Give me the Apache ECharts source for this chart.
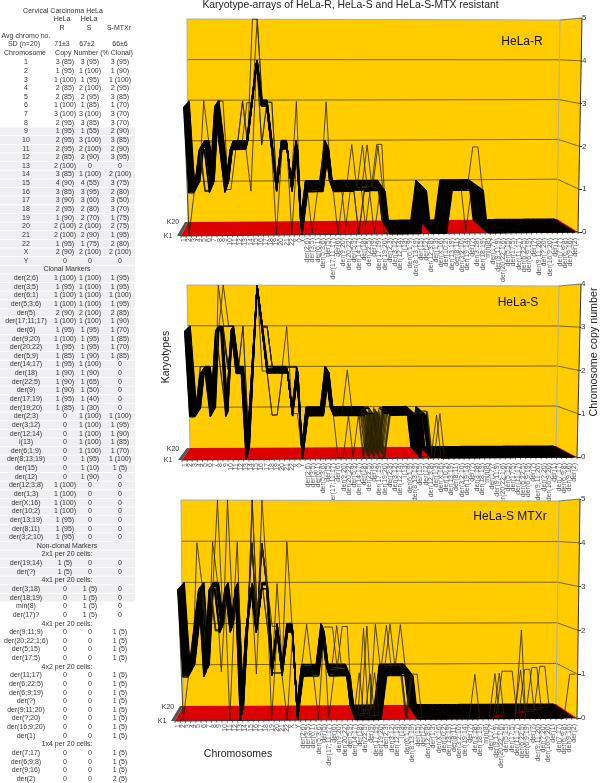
<!DOCTYPE html>
<html>
<head>
<meta charset="utf-8">
<style>html,body{margin:0;padding:0;background:#fff}#main{width:600px;height:783px}</style>
<script src="https://cdn.jsdelivr.net/npm/echarts@6/dist/echarts.min.js"></script>
</head>
<body>
<div id="main"></div>
<script>
// table rows: name, HeLa-R, HeLa-S, S-MTXr
var chromosomeRows = [
  ['1','3 (85)','3 (95)','3 (95)'],['2','1 (95)','1 (100)','1 (90)'],['3','1 (100)','1 (95)','1 (100)'],
  ['4','2 (85)','2 (100)','2 (95)'],['5','2 (85)','2 (95)','3 (85)'],['6','1 (100)','1 (85)','1 (70)'],
  ['7','3 (100)','3 (100)','3 (70)'],['8','2 (95)','3 (85)','3 (70)'],['9','1 (95)','1 (55)','2 (90)'],
  ['10','2 (95)','3 (100)','3 (85)'],['11','2 (95)','2 (100)','2 (90)'],['12','2 (85)','2 (90)','3 (95)'],
  ['13','2 (100)','0','0'],['14','3 (85)','1 (100)','2 (100)'],['15','4 (90)','4 (55)','3 (75)'],
  ['16','3 (85)','3 (95)','2 (80)'],['17','3 (90)','3 (60)','3 (50)'],['18','2 (95)','2 (80)','3 (70)'],
  ['19','1 (90)','2 (70)','1 (75)'],['20','2 (100)','2 (100)','2 (75)'],['21','2 (100)','2 (90)','1 (95)'],
  ['22','1 (95)','1 (75)','2 (80)'],['X','2 (90)','2 (100)','2 (100)'],['Y','0','0','0']
];
var clonalRows = [
  ['der(2;6)','1 (100)','1 (100)','1 (95)'],['der(3;5)','1 (95)','1 (100)','1 (95)'],['der(6;1)','1 (100)','1 (100)','1 (100)'],
  ['der(5;3;6)','1 (100)','1 (100)','1 (95)'],['der(5)','2 (90)','2 (100)','2 (85)'],['der(17;11;17)','1 (100)','1 (100)','1 (90)'],
  ['der(6)','1 (95)','1 (95)','1 (70)'],['der(9;20)','1 (100)','1 (95)','1 (85)'],['der(20;22)','1 (95)','1 (95)','1 (70)'],
  ['der(5;9)','1 (85)','1 (90)','1 (85)'],['der(14;17)','1 (95)','1 (100)','0'],['der(18)','1 (90)','1 (90)','0'],
  ['der(22;5)','1 (90)','1 (65)','0'],['der(9)','1 (90)','1 (50)','0'],['der(17;19)','1 (95)','1 (40)','0'],
  ['der(19;20)','1 (85)','1 (30)','0'],['der(2;3)','0','1 (100)','1 (100)'],['der(3;12)','0','1 (100)','1 (95)'],
  ['der(12;14)','0','1 (100)','1 (90)'],['i(13)','0','1 (100)','1 (85)'],['der(6;1;9)','0','1 (100)','1 (70)'],
  ['der(8;13;19)','0','1 (95)','1 (100)'],['der(15)','0','1 (10)','1 (5)'],['der(12)','0','1 (90)','0'],
  ['der(12;3;8)','1 (100)','0','0'],['der(1;3)','1 (100)','0','0'],['der(X;16)','1 (100)','0','0'],
  ['der(10;2)','1 (100)','0','0'],['der(13;19)','1 (95)','0','0'],['der(8;11)','1 (95)','0','0'],['der(3;2;10)','1 (95)','0','0']
];
var nonClonal2x1 = [['der(19;14)','1 (5)','0','0'],['der(?)','1 (5)','0','0']];
var nonClonal4x1S = [['der(3;18)','0','1 (5)','0'],['der(18;19)','0','1 (5)','0'],['min(8)','0','1 (5)','0'],['der(17)?','0','1 (5)','0']];
var nonClonal4x1M = [['der(9;11;9)','0','0','1 (5)'],['der(20;22;1;6)','0','0','1 (5)'],['der(5;15)','0','0','1 (5)'],['der(17;5)','0','0','1 (5)']];
var nonClonal4x2 = [['der(11;17)','0','0','1 (5)'],['der(6;22;5)','0','0','1 (5)'],['der(6;9;19)','0','0','1 (5)'],['der(?)','0','0','1 (5)'],
  ['der(9;11;20)','0','0','1 (5)'],['der(?;20)','0','0','1 (5)'],['der(16;9;20)','0','0','1 (5)'],['der(1)','0','0','1 (5)']];
var nonClonal1x4 = [['der(7;17)','0','0','1 (5)'],['der(6;9;8)','0','0','1 (5)'],['der(9;16)','0','0','1 (5)'],['der(2)','0','0','2 (5)']];

// chromosomes on the x axis
var categories = [].concat(chromosomeRows, clonalRows, nonClonal2x1, nonClonal4x1S, nonClonal4x1M, nonClonal4x2, nonClonal1x4)
  .map(function (r) { return r[0]; });

// modal copy number per chromosome
var modalR = [3,1,1,2,2,1,3,2,1,2,2,2,2,3,4,3,3,2,1,2,2,1,2,0,
  1,1,1,1,2,1,1,1,1,1,1,1,1,1,1,1, 0,0,0,0,0,0,0, 1, 0,0,0,0, 1,1,1,1,1,1,1,
  0,0,0,0,0,0,0,0,0,0,0,0,0,0,0,0,0,0];
var modalS = [3,1,1,2,2,1,3,3,1,3,2,2,0,2,4,3,2,2,2,2,2,1,2,0,
  1,1,1,1,2,1,1,1,1,1,1,1,1,1,1,1, 1,1,1,1,1,1, 0, 1, 0,0,0,0,0,0,0,0,0,0,0,
  0,0,0,0,0,0,0,0,0,0,0,0,0,0,0,0,0,0];
var modalM = [3,1,1,2,3,1,3,3,2,3,2,3,0,2,3,2,3,3,1,2,1,2,2,0,
  1,1,1,1,2,1,1,1,1,1, 0,0,0,0,0,0, 1,1,1,1,1,1, 0,0,0,0,0,0,0,0,0,0,0,0,0,
  0,0,0,0,0,0,0,0,0,0,0,0,0,0,0,0,0,0];

// karyotypes that leave the mode: [chromosome index, copy number, K numbers...]
var outliersR = [
  [0,2,20,19],[1,0,2],[3,3,18],[4,1,3,4,5],[5,2,17],[7,3,17],[9,1,6],[11,3,16,18],[12,3,12],[13,1,3],
  [13,5,20],[14,5,20,19],[15,2,10,11],[17,3,13,14],[18,0,1],[21,0,2],[22,3,15],[25,0,3],[28,3,14],
  [30,0,2],[32,0,12],[33,2,10],[34,0,1,2],[35,2,8],[36,2,9],[36,0,12],[37,0,1],[38,2,7,10],[39,2,10],[39,0,2],
  [55,0,3],[56,2,2],[57,2,2]
];
var outliersS = [
  [2,2,19,20],[7,4,20],[6,4,19],[7,2,2,3],[8,2,12,13,14,15,16],[8,3,17,18,19,20],[11,3,18,19],
  [15,2,7],[16,3,14,15,16,17,18],[17,1,3,4],[18,1,3,4],[20,3,16],[21,2,17,18,19,20],[22,1,6],
  [30,0,3],[31,0,3],[32,2,9],[33,0,4],
  [35,0,2,5],[36,0,1,3,6,8,11,14,17],[37,0,2,4,7,9,10,13,15,18,20,12],
  [38,0,1,3,5,6,8,11,12,14,16,17,19,20],[39,0,2,3,4,7,9,10,12,13,15,16,18,19,20,1],
  [46,1,5,6],[47,0,3,9],[48,1,8,9,10],[49,1,1],[50,1,4]
];
var outliersM = [
  [1,0,2],[3,4,14],[5,2,10,11,12],[6,4,17],[7,5,18],[7,2,5,6,7,8],[8,1,9],[9,5,19],[10,0,1],[11,4,16],
  [14,5,19,20],[14,4,10,11,12,13,14],[15,1,5],[16,5,18],[16,4,3,4,5,6,7,8,9,10,11,12],[17,2,15,16],
  [18,0,1],[18,2,14],[19,3,16],[19,1,6,7],[20,1,6,7],[21,4,17],[21,0,1],
  [25,2,18],[27,0,2],[29,0,3],[29,2,12],[30,2,12],[31,2,15],[32,2,13],[33,2,13],
  [35,1,6],[36,2,9],[37,2,14],[37,1,4],[38,1,6],[39,2,18],
  [41,2,15],[42,2,18],[44,2,17],[44,0,2,3,5],[46,1,3],
  [57,1,2],[61,1,3],[62,1,4],[63,1,7],[64,1,7],[65,1,7],[66,2,3],[67,1,9],[68,1,10],[69,1,10],
  [70,1,13],[71,1,13],[72,1,15],[73,1,15],[75,1,1],[76,1,1]
];

function buildKaryotypes(modal, outliers) {
  var rows = [];
  for (var k = 0; k < 20; k++) rows.push(modal.slice());
  outliers.forEach(function (o) {
    for (var j = 2; j < o.length; j++) rows[o[j] - 1][o[0]] = o[1];
  });
  return rows;
}

// floor and top corners of the box, front then back
var panels = [
  { name: 'HeLa-R', nameX: 522, nameY: 42, modal: modalR, outliers: outliersR, max: 5,
    fl: [181, 236], fr: [578, 232], ftl: [181, 21], ftr: [582, 18],
    bl: [188, 222], br: [557, 219], btl: [187, 19], btr: [560, 20], k20: [173, 222], k1: [168, 236] },
  { name: 'HeLa-S', nameX: 518, nameY: 303, modal: modalS, outliers: outliersS, max: 4,
    fl: [182, 460], fr: [577, 457], ftl: [182, 288], ftr: [581, 284],
    bl: [190, 448], br: [556, 446], btl: [187, 285], btr: [559, 286], k20: [173, 449], k1: [168, 460] },
  { name: 'HeLa-S MTXr', nameX: 510, nameY: 517, modal: modalM, outliers: outliersM, max: 5,
    fl: [175, 721], fr: [577, 718], ftl: [175, 502], ftr: [580, 499],
    bl: [183, 706], br: [556, 704], btl: [181, 500], btr: [559, 501], k20: [168, 707], k1: [162, 721] }
];

function mix(a, b, t) { return [a[0] + (b[0] - a[0]) * t, a[1] + (b[1] - a[1]) * t]; }

// u across, h up, d into the page, all 0..1
function project(p, u, h, d) {
  var front = mix(mix(p.fl, p.fr, u), mix(p.ftl, p.ftr, u), h);
  var back = mix(mix(p.bl, p.br, u), mix(p.btl, p.btr, u), h);
  return mix(front, back, d);
}

function poly(points, fill) {
  return { type: 'polygon', shape: { points: points }, style: { fill: fill, stroke: null } };
}
function line(points, color, width) {
  return { type: 'polyline', shape: { points: points }, style: { fill: null, stroke: color, lineWidth: width || 1 } };
}

function renderBox(p, api) {
  var kids = [
    poly([p.bl, p.br, p.btr, p.btl], '#ffcc00'),
    poly([p.br, p.fr, p.ftr, p.btr], '#ffcc00'),
    poly([p.fl, p.fr, p.br, p.bl], '#dd0000'),
    poly([p.fl, p.bl, [p.bl[0] - 3, p.bl[1]], [p.fl[0] - 4, p.fl[1]]], '#555')
  ];
  for (var v = 1; v < p.max; v++) {
    var h = v / p.max;
    kids.push(line([project(p, 0, h, 1), project(p, 1, h, 1), project(p, 1, h, 0)], '#7a6200'));
  }
  kids.push(line([p.btl, p.btr], '#aaa'));
  kids.push(line([p.bl, p.btl], '#aaa'));
  kids.push(line([p.br, p.btr], '#aaa'));
  kids.push(line([p.btr, p.ftr], '#777'));
  kids.push(line([p.fr, p.ftr], '#333'));
  kids.push(line([p.fl, p.fr], '#333'));
  // tilted tick row under the floor
  for (var i = 0; i <= categories.length; i++) {
    var t = project(p, i / categories.length, 0, 0);
    kids.push(line([t, [t[0], t[1] + 2]], '#333', 0.7));
  }
  return { type: 'group', children: kids };
}

var gridList = [], xAxisList = [], yAxisList = [], seriesList = [], graphics = [];

panels.forEach(function (p, n) {
  var left = p.fl[0], right = p.fr[0], top = p.ftr[1], bottom = p.fr[1];
  gridList.push({ left: left, width: right - left, top: top, height: bottom - top });
  xAxisList.push({
    type: 'category', gridIndex: n, data: categories,
    axisLine: { show: false }, axisTick: { show: false },
    axisLabel: { interval: 0, rotate: 90, fontSize: 7, margin: 6, color: '#555', fontFamily: 'Liberation Sans' }
  });
  yAxisList.push({
    type: 'value', gridIndex: n, position: 'right', min: 0, max: p.max, interval: 1,
    splitLine: { show: false }, axisLine: { show: false },
    axisTick: { show: true, length: 4, lineStyle: { color: '#333' } },
    axisLabel: { fontSize: 8, margin: 4, color: '#333', fontFamily: 'Liberation Sans' }
  });
  seriesList.push({
    type: 'custom', xAxisIndex: n, yAxisIndex: n, z: 1, silent: true, clip: false, data: [[0, 0]],
    renderItem: function (params, api) { return renderBox(p, api); }
  });
  var karyotypes = buildKaryotypes(p.modal, p.outliers);
  seriesList.push({
    type: 'custom', xAxisIndex: n, yAxisIndex: n, z: 2, silent: true, clip: false,
    // K20 at the back is drawn first
    data: [19,18,17,16,15,14,13,12,11,10,9,8,7,6,5,4,3,2,1,0].map(function (k) { return [k, 0]; }),
    renderItem: function (params, api) {
      var k = 19 - params.dataIndex;
      var row = karyotypes[k];
      var pts = row.map(function (v, i) {
        var c = api.coord([i, v]);
        return project(p, (c[0] - left) / (right - left), (bottom - c[1]) / (bottom - top), k / 19);
      });
      // the modal path merges into a solid band, the strays stay hairline
      var segs = [];
      for (var i = 1; i < pts.length; i++) {
        var onMode = row[i] === p.modal[i] && row[i - 1] === p.modal[i - 1];
        segs.push(line([pts[i - 1], pts[i]], onMode ? '#000' : '#2a2200', onMode ? 1.3 : 0.8));
      }
      return { type: 'group', children: segs };
    }
  });
  graphics.push({ type: 'text', x: p.nameX, y: p.nameY, z: 5, style: { text: p.name, fontSize: 12, fill: '#111', align: 'center', verticalAlign: 'middle', fontFamily: 'Liberation Sans' } });
  graphics.push({ type: 'text', x: p.k20[0], y: p.k20[1], style: { text: 'K20', fontSize: 7, fill: '#333', align: 'center', verticalAlign: 'middle', fontFamily: 'Liberation Sans' } });
  graphics.push({ type: 'text', x: p.k1[0], y: p.k1[1], style: { text: 'K1', fontSize: 7, fill: '#333', align: 'center', verticalAlign: 'middle', fontFamily: 'Liberation Sans' } });
});

// left table
function tableText(s, x, y) {
  graphics.push({ type: 'text', x: x, y: y, style: { text: s, fontSize: 7, fill: '#333', align: 'center', verticalAlign: 'middle', fontFamily: 'Liberation Sans' } });
}
var rowLayout = [
  chromosomeRows, 'Clonal Markers', clonalRows, 'Non-clonal Markers', '2x1 per 20 cells:', nonClonal2x1,
  '4x1 per 20 cells:', nonClonal4x1S, '4x1 per 20 cells:', nonClonal4x1M, '4x2 per 20 cells:', nonClonal4x2,
  '1x4 per 20 cells:', nonClonal1x4
];
var rowNo = 0;
function tableRow(r) {
  var y = 62.3 + 8.635 * rowNo;
  if (rowNo >= 8 && rowNo <= 62) {
    graphics.push({ type: 'rect', shape: { x: 0, y: y - 3.9, width: 135, height: 7.8 }, style: { fill: '#efeff1' }, z: -1 });
  }
  if (typeof r === 'string') {
    tableText(r, 67, y);
  } else {
    tableText(r[0], 26, y);
    tableText(r[1], 65, y);
    tableText(r[2], 90, y);
    tableText(r[3], 120, y);
  }
  rowNo++;
}
rowLayout.forEach(function (block) {
  if (typeof block === 'string') tableRow(block);
  else block.forEach(tableRow);
});
tableText('Cervical Carcinoma HeLa', 63, 10.7);
tableText('HeLa', 62, 19.5); tableText('HeLa', 89, 19.5);
tableText('R', 62, 28); tableText('S', 89, 28); tableText('S-MTXr', 119, 28);
tableText('Avg chromo no.', 26, 36);
tableText('SD (n=20)', 24, 44.5); tableText('71±3', 62, 44.5); tableText('67±2', 87, 44.5); tableText('66±6', 120, 44.5);
tableText('Chromosome', 25, 53.3); tableText('Copy Number (% Clonal)', 94, 53.3);

// headings
graphics.push({ type: 'text', x: 350.5, y: 5.5, style: { text: 'Karyotype-arrays of HeLa-R, HeLa-S and HeLa-S-MTX resistant', fontSize: 10.4, fill: '#222', align: 'center', verticalAlign: 'middle', fontFamily: 'Liberation Sans' } });
graphics.push({ type: 'text', x: 238, y: 754, style: { text: 'Chromosomes', fontSize: 10.5, fill: '#222', align: 'center', verticalAlign: 'middle', fontFamily: 'Liberation Sans' } });
graphics.push({ type: 'text', x: 166, y: 357, rotation: Math.PI / 2, style: { text: 'Karyotypes', fontSize: 10.5, fill: '#222', align: 'center', verticalAlign: 'middle', fontFamily: 'Liberation Sans' } });
graphics.push({ type: 'text', x: 594, y: 352, rotation: Math.PI / 2, style: { text: 'Chromosome copy number', fontSize: 10.7, fill: '#222', align: 'center', verticalAlign: 'middle', fontFamily: 'Liberation Sans' } });

var myChart = echarts.init(document.getElementById('main'));
myChart.setOption({
  animation: false,
  grid: gridList,
  xAxis: xAxisList,
  yAxis: yAxisList,
  series: seriesList,
  graphic: graphics
});
</script>
</body>
</html>
